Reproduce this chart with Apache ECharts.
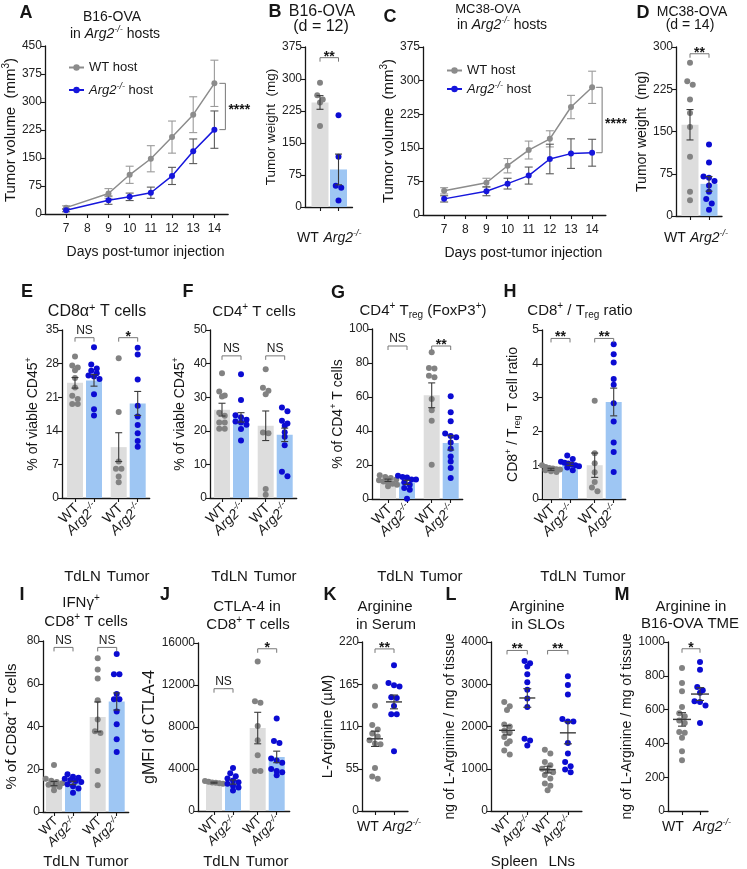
<!DOCTYPE html>
<html>
<head>
<meta charset="utf-8">
<title>Arg2 figure</title>
<script src="https://cdn.jsdelivr.net/npm/echarts@6.0.0/dist/echarts.min.js"></script>
<style>
html,body{margin:0;padding:0;background:#fff;}
#chart{width:747px;height:869px;}
</style>
</head>
<body>
<div id="chart"></div>
<script>
// ================= DATA =================
// A, C: tumour growth curves (mean, SEM)
const days = [7, 9, 10, 11, 12, 13, 14];
const dayTicks = [7, 8, 9, 10, 11, 12, 13, 14];
const aWT = [17, 55, 105, 148, 206, 266, 350];
const aWTsem = [5, 13, 23, 35, 43, 48, 62];
const aKO = [10, 37, 46, 57, 102, 168, 226];
const aKOsem = [4, 11, 10, 15, 23, 33, 50];
const cWT = [54, 72, 110, 145, 170, 241, 285];
const cWTsem = [7, 10, 16, 20, 18, 26, 36];
const cKO = [36, 53, 70, 88, 125, 137, 139];
const cKOsem = [7, 10, 12, 19, 33, 33, 30];
// B, D: tumour weight
const bWT = [291, 262, 252, 245, 190];
const bKO = [215, 118, 50, 45, 15];
const bMean = [245, 88];
const bSem = [16, 36];
const dWT = [272, 239, 233, 207, 183, 158, 105, 43, 28];
const dKO = [127, 95, 70, 68, 62, 54, 43, 30, 22, 11];
const dMean = [162, 57];
const dSem = [27, 13];
// E: CD8a+ T cells (% of viable CD45+)
const eWTln = [29.5, 27.6, 27.2, 26.6, 25.0, 23.0, 21.3, 20.6, 19.6, 19.6];
const eKOln = [31.4, 27.8, 27.0, 26.5, 26.0, 25.5, 25.3, 24.8, 21.6, 18.5, 17.2];
const eWTtu = [29.1, 17.9, 7.6, 6.1, 6.1, 4.5, 3.3];
const eKOtu = [31.3, 29.9, 24.7, 19.2, 17.0, 15.2, 13.5, 11.9, 10.7];
const eMean = [24.0, 24.5, 10.6, 19.7];
const eSem = [1.1, 1.2, 3.0, 2.5];
// F: CD4+ T cells
const fWTln = [37.1, 31.7, 30.5, 30.2, 25.4, 24.5, 22.5, 22.5, 20.6, 20.6];
const fKOln = [36.8, 29.2, 24.6, 24.0, 23.3, 22.8, 22.5, 21.8, 20.5, 17.1];
const fWTtu = [38.3, 32.8, 31.9, 30.9, 19.5, 19.3, 2.7, 1.0];
const fKOtu = [26.9, 25.8, 23.0, 22.2, 21.5, 19.6, 18.2, 15.7, 7.8, 6.5];
const fMean = [26.3, 24.0, 21.5, 18.8];
const fSem = [1.9, 1.4, 4.4, 2.0];
// G: Treg (% of CD4+)
const gWTln = [14.0, 13.0, 12.3, 11.5, 11.0, 10.3, 9.7, 9.0, 8.4, 7.5];
const gKOln = [13.7, 12.9, 12.7, 11.4, 11.4, 9.8, 8.4, 6.5, 5.5, 0.2];
const gWTtu = [86.3, 77.0, 76.7, 72.5, 71.6, 58.8, 52.2, 46.1, 20.2];
const gKOtu = [60.4, 51.0, 45.7, 38.5, 37.0, 36.3, 33.3, 29.5, 25.0, 22.0, 18.2, 12.3];
const gMean = [11.0, 9.8, 61.0, 33.0];
const gSem = [0.7, 1.2, 7.3, 4.2];
// H: CD8+/Treg ratio
const hWTln = [1.0, 0.95, 0.92, 0.9, 0.88, 0.87, 0.85, 0.82, 0.8];
const hKOln = [1.29, 1.18, 1.1, 1.07, 1.05, 1.02, 1.0, 0.97, 0.93, 0.85];
const hWTtu = [2.91, 1.35, 1.06, 0.79, 0.5, 0.34, 0.23];
const hKOtu = [4.58, 4.28, 4.04, 3.55, 3.38, 2.83, 2.29, 1.67, 1.39, 0.8];
const hMean = [0.88, 1.03, 1.0, 2.87];
const hSem = [0.03, 0.04, 0.36, 0.41];
// I: IFNg+ CD8+ T cells
const iWTln = [22.0, 15.5, 14.6, 14.0, 13.4, 12.8, 12.3, 11.8, 10.2];
const iKOln = [17.7, 16.5, 16.0, 15.5, 15.0, 14.5, 14.0, 13.0, 12.0, 11.0, 9.0];
const iWTtu = [71.9, 66.7, 62.5, 52.3, 43.3, 37.8, 37.0, 19.2, 12.5];
const iKOtu = [73.9, 64.5, 64.5, 55.2, 52.7, 52.7, 47.0, 41.0, 34.0, 28.1];
const iMean = [13.3, 13.6, 44.5, 51.7];
const iSem = [1.0, 0.8, 7.0, 4.0];
// J: CTLA-4 gMFI
const jWTln = [2850, 2780, 2720, 2680, 2640, 2600];
const jKOln = [4100, 3600, 3300, 3100, 2900, 2750, 2600, 2400, 2250, 1950];
const jWTtu = [14250, 10450, 10300, 8100, 6730, 5300, 3810, 3810];
const jKOtu = [8800, 6670, 6480, 5000, 4800, 4600, 4000, 3800, 3700, 3400];
const jMean = [2700, 2760, 7900, 5150];
const jSem = [50, 200, 1500, 550];
// K: serum arginine (uM)
const kWT = [162, 137, 112, 106, 101, 97, 92, 88, 87, 56, 45, 42];
const kKO = [189.6, 166.6, 163.6, 162, 148, 147, 136.7, 126, 125.8, 77.7];
const kMean = [94, 142];
const kSem = [10, 9];
// L: arginine in SLOs
const lWTsp = [2580, 2480, 2390, 2050, 2000, 1900, 1850, 1750, 1650, 1600, 1430, 1340];
const lKOsp = [3550, 3500, 3420, 3235, 3050, 2870, 2660, 2460, 1710, 1670, 1550];
const lWTln = [1450, 1360, 1160, 1080, 1000, 960, 920, 850, 770, 650, 600, 490];
const lKOln = [3190, 2980, 2760, 2180, 2120, 2120, 1610, 1360, 1160, 1060, 980, 920];
const lMean = [1910, 2675, 980, 1850];
const lSem = [110, 220, 80, 260];
// M: arginine in B16-OVA TME
const mWT = [846, 757, 708, 615, 578, 560, 536, 520, 467, 463, 434, 353, 300];
const mKO = [881, 836, 733, 714, 700, 650, 645, 625, 520];
const mMean = [542, 692];
const mSem = [40, 38];
// significance annotations (group index pairs, bracket level, text)
const bSig = [{a:0, b:1, y:350, t:'**'}];
const dSig = [{a:0, b:1, y:288, t:'**'}];
const eSig = [{a:0, b:1, y:33.4, t:'NS'}, {a:2, b:3, y:33.4, t:'*'}];
const fSig = [{a:0, b:1, y:42.3, t:'NS'}, {a:2, b:3, y:42.3, t:'NS'}];
const gSig = [{a:0, b:1, y:90, t:'NS'}, {a:2, b:3, y:90, t:'**'}];
const hSig = [{a:0, b:1, y:4.75, t:'**'}, {a:2, b:3, y:4.75, t:'**'}];
const iSig = [{a:0, b:1, y:77, t:'NS'}, {a:2, b:3, y:77, t:'NS'}];
const jSig = [{a:0, b:1, y:11650, t:'NS'}, {a:2, b:3, y:15450, t:'*'}];
const kSig = [{a:0, b:1, y:211, t:'**'}];
const lSig = [{a:0, b:1, y:3800, t:'**'}, {a:2, b:3, y:3800, t:'**'}];
const mSig = [{a:0, b:1, y:960, t:'*'}];

// ================= LAYOUT / STYLE =================
const FONT = '"Liberation Sans", Arial, Helvetica, sans-serif';
const INK = '#161616';
const COL = {wtDot:'#828282', koDot:'#0b0bd2', wtBar:'#dddddd', koBar:'#9ec6f3',
  wtLine:'#8c8c8c', koLine:'#1616dc', wtErr:'#9a9a9a', koErr:'#5a5a5a', err:'#3a3a3a', sig:'#777777'};
const POS4 = [1, 2, 3.3, 4.3];
const POS2 = [1, 2];
const POS4L = [1, 2, 3, 4];
const layout = {
  A: {left:44, top:46, bottom:214, xmin:6, xmax:14.65, unit:21.29, ymax:450, yint:75},
  B: {left:305, top:47, bottom:207, pad:15, slot:18.5, endPad:14, ymax:375, yint:75},
  C: {left:423, top:47, bottom:215, xmin:6, xmax:14.65, unit:21.14, ymax:375, yint:75},
  D: {left:676, top:47, bottom:216, pad:14, slot:19, endPad:13, ymax:300, yint:75},
  E: {left:62, top:330, bottom:498, pad:13, slot:19, endPad:12, ymax:35, yint:7},
  F: {left:210, top:330, bottom:498, pad:12, slot:19, endPad:12, ymax:50, yint:10},
  G: {left:372, top:329, bottom:499, pad:16, slot:19, endPad:12, ymax:100, yint:20},
  H: {left:542, top:330, bottom:499, pad:9, slot:19, endPad:12, ymax:5, yint:1},
  I: {left:43, top:641, bottom:812, pad:11, slot:19, endPad:12, ymax:80, yint:20},
  J: {left:198, top:643, bottom:811, pad:16, slot:19, endPad:13, ymax:16000, yint:4000},
  K: {left:362, top:642, bottom:811, pad:13, slot:19, endPad:14, ymax:220, yint:55},
  L: {left:491, top:642, bottom:811, pad:16, slot:20.3, endPad:14, ymax:4000, yint:1000},
  M: {left:668, top:642, bottom:811, pad:14, slot:18, endPad:8, ymax:1000, yint:200}
};

const option = {animation:false, backgroundColor:'#ffffff', grid:[], xAxis:[], yAxis:[], series:[], legend:[], graphic:[]};

function richStyles(size, color, weight) {
  const lh = Math.round(size * 1.25);
  const s = Math.max(7, Math.round(size * 0.66));
  const base = {fontFamily:FONT, fontSize:size, color:color, fill:color, fontWeight:weight || 'normal', lineHeight:lh};
  return {
    n: Object.assign({}, base),
    i: Object.assign({}, base, {fontStyle:'italic'}),
    p: Object.assign({}, base, {fontSize:s, lineHeight:s, verticalAlign:'top'}),
    ip: Object.assign({}, base, {fontSize:s, lineHeight:s, verticalAlign:'top', fontStyle:'italic'}),
    b: Object.assign({}, base, {fontSize:s, lineHeight:s, verticalAlign:'bottom'})
  };
}
function markup(src) {
  let out = '', last = 0, m;
  const re = /\{(\w+):([^}]*)\}/g;
  while ((m = re.exec(src))) {
    if (m.index > last) out += '{n|' + src.slice(last, m.index) + '}';
    out += '{' + m[1] + '|' + m[2] + '}';
    last = re.lastIndex;
  }
  if (last < src.length) out += '{n|' + src.slice(last) + '}';
  return out;
}
function addText(src, x, y, size, opts) {
  opts = opts || {};
  option.graphic.push({type:'text', x:x, y:y, z:50, silent:true,
    style:{text:markup(src), rich:richStyles(size, INK, opts.weight), align:opts.align || 'center',
      verticalAlign:'middle', fill:INK, font:(opts.weight || 'normal') + ' ' + size + 'px ' + FONT}});
}
const WT_LAB = '{n|WT}';
const KO_LAB = '{i|Arg2}{ip|-/-}';

function axes(L, xc, yName, nameSize, nameGap) {
  const gi = option.grid.length;
  option.grid.push({left:L.left, top:L.top, width:L.right - L.left, height:L.bottom - L.top});
  const xa = {
    gridIndex:gi, type:'value', min:L.xmin, max:L.xmax, splitLine:{show:false},
    axisLine:{show:true, onZero:false, lineStyle:{color:INK, width:1.3}},
    axisTick:{show:true, length:4, lineStyle:{color:INK, width:1.1}, customValues:xc.ticks},
    axisLabel:{show:xc.showLabels !== false, customValues:xc.ticks, margin:xc.margin,
      formatter:xc.fmt, rich:xc.rich, fontFamily:FONT, fontSize:xc.size, color:INK}
  };
  if (xc.name) {
    const nr = richStyles(14, INK);
    Object.assign(xa, {name:markup(xc.name), nameLocation:'middle', nameGap:xc.nameGap,
      nameTextStyle:{rich:nr, fontFamily:FONT, fontSize:14, color:INK, padding:[0, 0, 0, 18]}});
  }
  option.xAxis.push(xa);
  option.yAxis.push({
    gridIndex:gi, type:'value', min:0, max:L.ymax, interval:L.yint, splitLine:{show:false},
    axisLine:{show:true, lineStyle:{color:INK, width:1.3}},
    axisTick:{show:true, length:4, lineStyle:{color:INK, width:1.1}},
    axisLabel:{fontFamily:FONT, fontSize:12, color:'#222', margin:3, formatter:v => String(v)},
    name:markup(yName), nameLocation:'middle', nameGap:nameGap,
    nameTextStyle:{rich:richStyles(nameSize, INK), fontFamily:FONT, fontSize:nameSize, color:INK}
  });
  return gi;
}

function swarm(vals, pxPerUnit, d, maxW) {
  const idx = vals.map((v, i) => i).sort((a, b) => vals[b] - vals[a]);
  const off = vals.map(() => 0);
  let k = 0;
  while (k < idx.length) {
    let j = k + 1;
    while (j < idx.length && (vals[idx[k]] - vals[idx[j]]) * pxPerUnit < d * 0.85) j++;
    const n = j - k;
    const step = n > 1 ? Math.min(d, maxW / (n - 1)) : 0;
    for (let q = 0; q < n; q++) off[idx[k + q]] = (q - (n - 1) / 2) * step;
    k = j;
  }
  return off;
}

function errorSeries(gi, items, color, cap, meanHalf, z) {
  option.series.push({
    type:'custom', coordinateSystem:'cartesian2d', xAxisIndex:gi, yAxisIndex:gi, z:z || 4, silent:true, clip:false,
    data:items, encode:{x:0, y:1},
    renderItem:function (params, api) {
      const x = api.value(0), m = api.value(1), s = api.value(2);
      const t = api.coord([x, m + s]), b = api.coord([x, m - s]), c = api.coord([x, m]);
      const st = {stroke:color, lineWidth:1.1};
      const ch = [
        {type:'line', shape:{x1:t[0], y1:t[1], x2:b[0], y2:b[1]}, style:st},
        {type:'line', shape:{x1:t[0] - cap, y1:t[1], x2:t[0] + cap, y2:t[1]}, style:st},
        {type:'line', shape:{x1:b[0] - cap, y1:b[1], x2:b[0] + cap, y2:b[1]}, style:st}
      ];
      if (meanHalf) ch.push({type:'line', shape:{x1:c[0] - meanHalf, y1:c[1], x2:c[0] + meanHalf, y2:c[1]},
        style:{stroke:color, lineWidth:1.4}});
      return {type:'group', children:ch};
    }
  });
}

function sigSeries(gi, items) {
  option.series.push({
    type:'custom', coordinateSystem:'cartesian2d', xAxisIndex:gi, yAxisIndex:gi, z:5, silent:true, clip:false,
    data:items.map(s => [s.x1, s.y, s.x2]), encode:{x:0, y:1},
    renderItem:function (params, api) {
      const it = items[params.dataIndex];
      const p1 = api.coord([it.x1, it.y]), p2 = api.coord([it.x2, it.y]);
      const star = it.t !== 'NS';
      return {type:'group', children:[
        {type:'polyline', shape:{points:[[p1[0], p1[1] + 4], [p1[0], p1[1]], [p2[0], p2[1]], [p2[0], p2[1] + 4]]},
          style:{stroke:COL.sig, lineWidth:1, fill:null}},
        {type:'text', x:(p1[0] + p2[0]) / 2, y:star ? p1[1] + 6 : p1[1] - 1,
          style:{text:it.t, fill:INK, font:(star ? 'bold 14px ' : '12px ') + FONT, align:'center', verticalAlign:'bottom'}}
      ]};
    }
  });
}

function sideSig(gi, x, y1, y2, text, dx) {
  option.series.push({
    type:'custom', coordinateSystem:'cartesian2d', xAxisIndex:gi, yAxisIndex:gi, z:5, silent:true, clip:false,
    data:[[x, y1, y2]], encode:{x:0, y:1},
    renderItem:function (params, api) {
      const a = api.coord([api.value(0), api.value(1)]), b = api.coord([api.value(0), api.value(2)]);
      const bx = a[0] + dx;
      return {type:'group', children:[
        {type:'polyline', shape:{points:[[bx - 6, a[1]], [bx, a[1]], [bx, b[1]], [bx - 6, b[1]]]},
          style:{stroke:COL.sig, lineWidth:1, fill:null}},
        {type:'text', x:bx + 3, y:(a[1] + b[1]) / 2 + 4,
          style:{text:text, fill:INK, font:'bold 14px ' + FONT, align:'left', verticalAlign:'middle'}}
      ]};
    }
  });
}

// WT / Arg2-/- tick labels drawn at the tick positions (flat with spreading, or rotated 45 degrees)
function tickLabels(gi, pos, groups, o) {
  const rich = richStyles(o.labSize, INK);
  const rot = o.rotate ? o.rotate * Math.PI / 180 : 0;
  option.series.push({
    type:'custom', coordinateSystem:'cartesian2d', xAxisIndex:gi, yAxisIndex:gi, z:5, silent:true, clip:false,
    data:pos.map(p => [p, 0]), encode:{x:0, y:1},
    renderItem:function (params, api) {
      const k = params.dataIndex, c = api.coord([api.value(0), 0]);
      const ko = groups[k].ko;
      if (rot) {
        return {type:'text', x:c[0] + 2, y:c[1] + o.margin, rotation:rot,
          style:{text:ko ? KO_LAB : WT_LAB, rich:rich, align:'right', verticalAlign:'middle', fill:INK,
            font:o.labSize + 'px ' + FONT}};
      }
      return {type:'text', x:c[0] + (ko ? o.shiftKO : o.shiftWT), y:c[1] + o.margin,
        style:{text:ko ? KO_LAB : WT_LAB, rich:rich, align:'center', verticalAlign:'top', fill:INK,
          font:o.labSize + 'px ' + FONT}};
    }
  });
}

function linePanel(L, wt, wtE, ko, koE, sigText, o) {
  L.right = L.left + (L.xmax - L.xmin) * L.unit;
  const gi = axes(L, {ticks:dayTicks, margin:7, size:12, fmt:v => '{n|' + v + '}', rich:richStyles(12, '#222'),
    name:'Days post-tumor injection', nameGap:29}, o.yName, o.nameSize, o.nameGap);
  errorSeries(gi, days.map((d, i) => [d, wt[i], wtE[i]]), COL.wtErr, 4, 0, 2);
  errorSeries(gi, days.map((d, i) => [d, ko[i], koE[i]]), COL.koErr, 4, 0, 2);
  option.series.push({type:'line', name:'WT host', xAxisIndex:gi, yAxisIndex:gi, z:3, symbol:'circle', symbolSize:6,
    color:COL.wtLine, lineStyle:{width:1.5, color:COL.wtLine}, itemStyle:{color:COL.wtLine},
    data:days.map((d, i) => [d, wt[i]])});
  option.series.push({type:'line', name:'Arg2 host', xAxisIndex:gi, yAxisIndex:gi, z:3, symbol:'circle', symbolSize:6,
    color:COL.koLine, lineStyle:{width:1.5, color:COL.koLine}, itemStyle:{color:COL.koLine},
    data:days.map((d, i) => [d, ko[i]])});
  sideSig(gi, days[days.length - 1], wt[wt.length - 1], ko[ko.length - 1], sigText, o.sigDx);
}

function barPanel(L, pos, groups, sigs, o) {
  L.right = L.left + L.pad + (pos[pos.length - 1] - pos[0]) * L.slot + L.endPad;
  L.xmin = pos[0] - L.pad / L.slot;
  L.xmax = L.xmin + (L.right - L.left) / L.slot;
  const gi = axes(L, {ticks:pos, showLabels:false}, o.yName, o.nameSize, o.nameGap);
  tickLabels(gi, pos, groups, o);
  const pxY = (L.bottom - L.top) / L.ymax;
  if (o.bars) {
    option.series.push({type:'bar', xAxisIndex:gi, yAxisIndex:gi, barWidth:o.barW || 16, z:1, silent:true,
      data:groups.map((g, k) => ({value:[pos[k], g.m], itemStyle:{color:g.ko ? COL.koBar : COL.wtBar}}))});
  }
  groups.forEach((g, k) => {
    const off = swarm(g.v, pxY, o.dot || 5.5, o.maxW || 18);
    option.series.push({type:'scatter', xAxisIndex:gi, yAxisIndex:gi, z:3, silent:true, symbolSize:6,
      itemStyle:{color:g.ko ? COL.koDot : COL.wtDot, opacity:1},
      data:g.v.map((v, i) => [pos[k] + off[i] / L.slot, v])});
    errorSeries(gi, [[pos[k], g.m, g.e]], COL.err, o.cap || 3.5, o.meanHalf || 0, 4);
  });
  if (sigs) sigSeries(gi, sigs.map(s => ({x1:pos[s.a], x2:pos[s.b], y:s.y, t:s.t})));
  return L;
}
function grp(vals, means, sems, kos) {
  return vals.map((v, k) => ({v:v, m:means[k], e:sems[k], ko:kos[k]}));
}
const KO2 = [false, true];
const KO4 = [false, true, false, true];
function groupCenter(L, pos, a, b) {
  return L.left + L.pad + ((pos[a] + pos[b]) / 2 - pos[0]) * L.slot;
}

// ================= PANELS =================
linePanel(layout.A, aWT, aWTsem, aKO, aKOsem, '****', {yName:'Tumor volume  (mm{p:3})', nameSize:15, nameGap:22, sigDx:11});
linePanel(layout.C, cWT, cWTsem, cKO, cKOsem, '****', {yName:'Tumor volume  (mm{p:3})', nameSize:15, nameGap:22, sigDx:10});
barPanel(layout.B, POS2, grp([bWT, bKO], bMean, bSem, KO2), bSig,
  {bars:true, labSize:14, margin:22, shiftWT:-12, shiftKO:4, yName:'Tumor weight  (mg)', nameSize:13.5, nameGap:15, barW:17});
barPanel(layout.D, POS2, grp([dWT, dKO], dMean, dSem, KO2), dSig,
  {bars:true, labSize:14, margin:13, shiftWT:-15, shiftKO:0, yName:'Tumor weight  (mg)', nameSize:14, nameGap:24, barW:17});
barPanel(layout.E, POS4, grp([eWTln, eKOln, eWTtu, eKOtu], eMean, eSem, KO4), eSig,
  {bars:true, labSize:14, margin:8, rotate:45, yName:'% of viable CD45{p:+}', nameSize:14, nameGap:20});
barPanel(layout.F, POS4, grp([fWTln, fKOln, fWTtu, fKOtu], fMean, fSem, KO4), fSig,
  {bars:true, labSize:14, margin:8, rotate:45, yName:'% of viable CD45{p:+}', nameSize:14, nameGap:21});
barPanel(layout.G, POS4, grp([gWTln, gKOln, gWTtu, gKOtu], gMean, gSem, KO4), gSig,
  {bars:true, labSize:14, margin:8, rotate:45, yName:'% of CD4{p:+} T cells', nameSize:14, nameGap:24});
barPanel(layout.H, POS4, grp([hWTln, hKOln, hWTtu, hKOtu], hMean, hSem, KO4), hSig,
  {bars:true, labSize:14, margin:8, rotate:45, yName:'CD8{p:+} / T{b:reg} T cell ratio', nameSize:14, nameGap:20});
barPanel(layout.I, POS4, grp([iWTln, iKOln, iWTtu, iKOtu], iMean, iSem, KO4), iSig,
  {bars:true, labSize:13, margin:7, rotate:45, yName:'% of CD8α{p:+} T cells', nameSize:15, nameGap:22});
barPanel(layout.J, POS4, grp([jWTln, jKOln, jWTtu, jKOtu], jMean, jSem, KO4), jSig,
  {bars:true, labSize:13, margin:7, rotate:45, yName:'gMFI of CTLA-4', nameSize:16, nameGap:26});
barPanel(layout.K, POS2, grp([kWT, kKO], kMean, kSem, KO2), kSig,
  {bars:false, labSize:14, margin:7, shiftWT:-7, shiftKO:8, meanHalf:8, cap:4, maxW:14,
   yName:'L-Arginine (µM)', nameSize:15, nameGap:25});
barPanel(layout.L, POS4L, grp([lWTsp, lKOsp, lWTln, lKOln], lMean, lSem, KO4), lSig,
  {bars:false, labSize:13, margin:7, rotate:45, meanHalf:8, cap:4, maxW:14,
   yName:'ng of L-Arginine / mg of tissue', nameSize:14, nameGap:31});
barPanel(layout.M, POS2, grp([mWT, mKO], mMean, mSem, KO2), mSig,
  {bars:false, labSize:14, margin:7, shiftWT:-9, shiftKO:12, meanHalf:9, cap:4, maxW:14,
   yName:'ng of L-Arginine / mg of tissue', nameSize:14, nameGap:26});

// legends for A and C
const legRich = richStyles(13, INK);
const legFmt = name => name === 'WT host' ? '{n|WT host}' : '{i|Arg2}{ip|-/-}{n| host}';
option.legend.push({left:63, top:56, orient:'vertical', itemGap:8, itemWidth:15, itemHeight:8, selectedMode:false,
  data:['WT host', 'Arg2 host'], formatter:legFmt, textStyle:{rich:legRich, fontSize:13, fontFamily:FONT}});
option.legend.push({left:441, top:59, orient:'vertical', itemGap:4, itemWidth:15, itemHeight:8, selectedMode:false,
  data:['WT host', 'Arg2 host'], formatter:legFmt, textStyle:{rich:legRich, fontSize:13, fontFamily:FONT}});

// ================= TEXT =================
const B = {weight:'bold'};
addText('A', 26, 13, 18, B);
addText('B16-OVA', 112, 17, 14);
addText('in {i:Arg2}{ip:-/-} hosts', 115, 34, 14);
addText('B', 275, 12, 18, B);
addText('B16-OVA', 322, 12, 16);
addText('(d = 12)', 321, 27, 16);
addText('C', 390, 17, 18, B);
addText('MC38-OVA', 488, 9, 13);
addText('in {i:Arg2}{ip:-/-} hosts', 502, 25, 14);
addText('D', 643, 13, 18, B);
addText('MC38-OVA', 692, 12, 14);
addText('(d = 14)', 690, 25, 14);

addText('E', 27, 292, 18, B);
addText('CD8α{p:+} T cells', 97, 312, 16);
addText('F', 188, 292, 18, B);
addText('CD4{p:+} T cells', 254, 312, 15);
addText('G', 338, 293, 18, B);
addText('CD4{p:+} T{b:reg} (FoxP3{p:+})', 423, 311, 15);
addText('H', 510, 292, 18, B);
addText('CD8{p:+} / T{b:reg} ratio', 580, 311, 15);

addText('I', 22, 595, 18, B);
addText('IFNγ{p:+}', 81, 603, 15);
addText('CD8{p:+} T cells', 86, 622, 15);
addText('J', 165, 595, 18, B);
addText('CTLA-4 in', 247, 607, 15);
addText('CD8{p:+} T cells', 248, 625, 15);
addText('K', 330, 595, 18, B);
addText('Arginine', 385, 607, 15);
addText('in Serum', 386, 625, 15);
addText('L', 451, 595, 18, B);
addText('Arginine', 537, 607, 15);
addText('in SLOs', 538, 625, 15);
addText('M', 622, 595, 18, B);
addText('Arginine in', 691, 607, 15);
addText('B16-OVA TME', 690, 624, 15);

[['E', 577], ['F', 577], ['G', 577], ['H', 577], ['I', 862], ['J', 862]].forEach(([p, y]) => {
  const L = layout[p];
  addText('TdLN', groupCenter(L, POS4, 0, 1) - 2, y, 15);
  addText('Tumor', groupCenter(L, POS4, 2, 3), y, 15);
});
addText('Spleen', groupCenter(layout.L, POS4L, 0, 1) - 3, 862, 15);
addText('LNs', groupCenter(layout.L, POS4L, 2, 3) + 4, 862, 15);

const chart = echarts.init(document.getElementById('chart'), null, {renderer:'canvas'});
chart.setOption(option);
</script>
</body>
</html>
